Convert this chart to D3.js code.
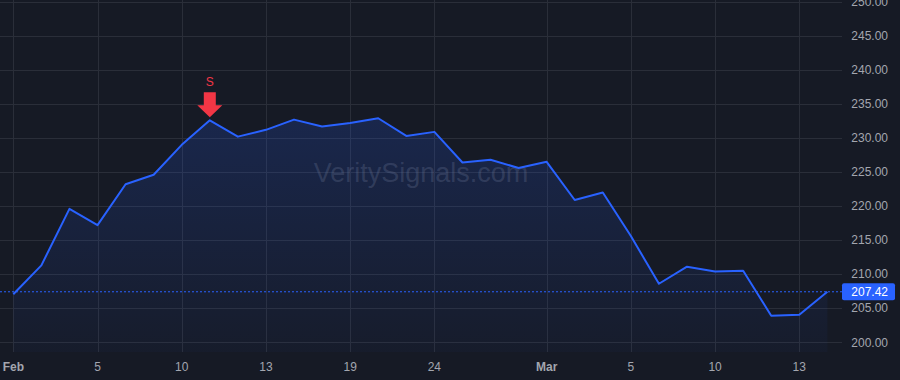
<!DOCTYPE html>
<html>
<head>
<meta charset="utf-8">
<script src="https://cdn.jsdelivr.net/npm/d3@7/dist/d3.min.js"></script>
<style>
  html, body { margin: 0; padding: 0; background: #161a25; }
  svg { display: block; }
</style>
</head>
<body>
<svg id="chart" width="900" height="380"></svg>
<script>
// ---- data ----
const dates = ["Feb 1","Feb 2","Feb 3","Feb 5","Feb 6","Feb 8","Feb 10","Feb 11","Feb 12","Feb 13",
  "Feb 15","Feb 17","Feb 19","Feb 20","Feb 22","Feb 24","Feb 25","Feb 27","Feb 28","Mar 1",
  "Mar 2","Mar 4","Mar 5","Mar 7","Mar 8","Mar 10","Mar 11","Mar 12","Mar 13","Mar 14"];
const prices = [207.05, 211.3, 219.6, 217.2, 223.2, 224.6, 229.0, 232.6, 230.2, 231.2,
  232.7, 231.7, 232.2, 232.9, 230.3, 230.9, 226.4, 226.8, 225.6, 226.5,
  220.9, 222.0, 215.6, 208.6, 211.1, 210.4, 210.5, 203.9, 204.05, 207.42];
const tickIndex = [0, 3, 6, 9, 12, 15, 19, 22, 25, 28];
const tickLabels = ["Feb", "5", "10", "13", "19", "24", "Mar", "5", "10", "13"];
const monthTicks = ["Feb", "Mar"];
const priceTicks = [200, 205, 210, 215, 220, 225, 230, 235, 240, 245, 250];
const lastPrice = 207.42;
const signalIndex = [7];
const signalLabels = ["S"];
const watermark = "VeritySignals.com";

// ---- layout ----
const W = 900, H = 380;
const plotRight = 842, plotBottom = 352;
const svg = d3.select("#chart");
const font = "'Liberation Sans', Arial, sans-serif";

const x = d3.scaleLinear().domain([0, 28]).range([13.3, 799.3]);
const y = d3.scaleLinear().domain([200, 250]).range([342.3, 1.8]);

svg.append("rect").attr("width", W).attr("height", H).attr("fill", "#161a25");

// gradient
const defs = svg.append("defs");
const grad = defs.append("linearGradient").attr("id", "fillGrad")
  .attr("x1", 0).attr("y1", 0).attr("x2", 0).attr("y2", 1)
  .attr("gradientUnits", "userSpaceOnUse")
  .attr("x1", 0).attr("y1", y(d3.max(prices))).attr("x2", 0).attr("y2", plotBottom);
grad.append("stop").attr("offset", 0).attr("stop-color", "#2962ff").attr("stop-opacity", 0.18);
grad.append("stop").attr("offset", 1).attr("stop-color", "#2962ff").attr("stop-opacity", 0.03);

const clip = defs.append("clipPath").attr("id", "plotClip");
clip.append("rect").attr("x", 0).attr("y", 0).attr("width", plotRight).attr("height", plotBottom);

// grid
const grid = svg.append("g");
grid.selectAll("line.h").data(priceTicks).enter().append("line")
  .attr("x1", 0).attr("x2", plotRight)
  .attr("y1", d => Math.round(y(d)) + 0.5).attr("y2", d => Math.round(y(d)) + 0.5)
  .attr("stroke", "#2a2e39").attr("stroke-width", 1);
grid.selectAll("line.v").data(tickIndex).enter().append("line")
  .attr("y1", 0).attr("y2", plotBottom)
  .attr("x1", d => Math.round(x(d)) + 0.5).attr("x2", d => Math.round(x(d)) + 0.5)
  .attr("stroke", "#2a2e39").attr("stroke-width", 1);

// watermark
svg.append("text").attr("x", 421).attr("y", 182)
  .attr("text-anchor", "middle").attr("font-family", font).attr("font-size", 27)
  .attr("fill", "#787b86").attr("fill-opacity", 0.3).text(watermark);

// area + line
const plot = svg.append("g").attr("clip-path", "url(#plotClip)");
const area = d3.area().x((d, i) => x(i)).y0(plotBottom).y1(d => y(d));
plot.append("path").datum(prices).attr("d", area).attr("fill", "url(#fillGrad)");
const line = d3.line().x((d, i) => x(i)).y(d => y(d));
plot.append("path").datum(prices).attr("d", line).attr("fill", "none")
  .attr("stroke", "#2962ff").attr("stroke-width", 2).attr("stroke-linejoin", "round");

// last price dotted line
svg.append("line").attr("x1", 0).attr("x2", plotRight)
  .attr("y1", y(lastPrice)).attr("y2", y(lastPrice))
  .attr("stroke", "#2962ff").attr("stroke-width", 1).attr("stroke-dasharray", "2,2");

// signal markers
signalIndex.forEach((idx, k) => {
  const cx = x(idx), tip = y(prices[idx]) - 3;
  const g = svg.append("g");
  g.append("path")
    .attr("d", `M${cx - 6},${tip - 25} L${cx + 6},${tip - 25} L${cx + 6},${tip - 12} L${cx + 12.5},${tip - 12} L${cx},${tip} L${cx - 12.5},${tip - 12} L${cx - 6},${tip - 12} Z`)
    .attr("fill", "#f23645");
  g.append("text").attr("x", cx).attr("y", tip - 31).attr("text-anchor", "middle")
    .attr("font-family", font).attr("font-size", 12).attr("fill", "#f23645").text(signalLabels[k]);
});

// price axis
const pa = svg.append("g");
pa.selectAll("text").data(priceTicks).enter().append("text")
  .attr("x", 888).attr("y", d => y(d)).attr("dy", "0.35em")
  .attr("text-anchor", "end").attr("font-family", font).attr("font-size", 12)
  .attr("fill", "#a3a6af").text(d => d3.format(".2f")(d));

// last price label
const ly = y(lastPrice);
svg.append("rect").attr("x", 842).attr("y", ly - 8.5).attr("width", 53).attr("height", 17)
  .attr("rx", 2).attr("fill", "#2962ff");
svg.append("text").attr("x", 888).attr("y", ly).attr("dy", "0.35em")
  .attr("text-anchor", "end").attr("font-family", font).attr("font-size", 12)
  .attr("fill", "#ffffff").text(d3.format(".2f")(lastPrice));

// time axis
const ta = svg.append("g");
ta.selectAll("text").data(tickIndex).enter().append("text")
  .attr("x", d => x(d)).attr("y", 367).attr("dy", "0.35em")
  .attr("text-anchor", "middle").attr("font-family", font).attr("font-size", 12)
  .attr("font-weight", (d, i) => monthTicks.includes(tickLabels[i]) ? "bold" : "normal")
  .attr("fill", "#a3a6af").text((d, i) => tickLabels[i]);
</script>
</body>
</html>
